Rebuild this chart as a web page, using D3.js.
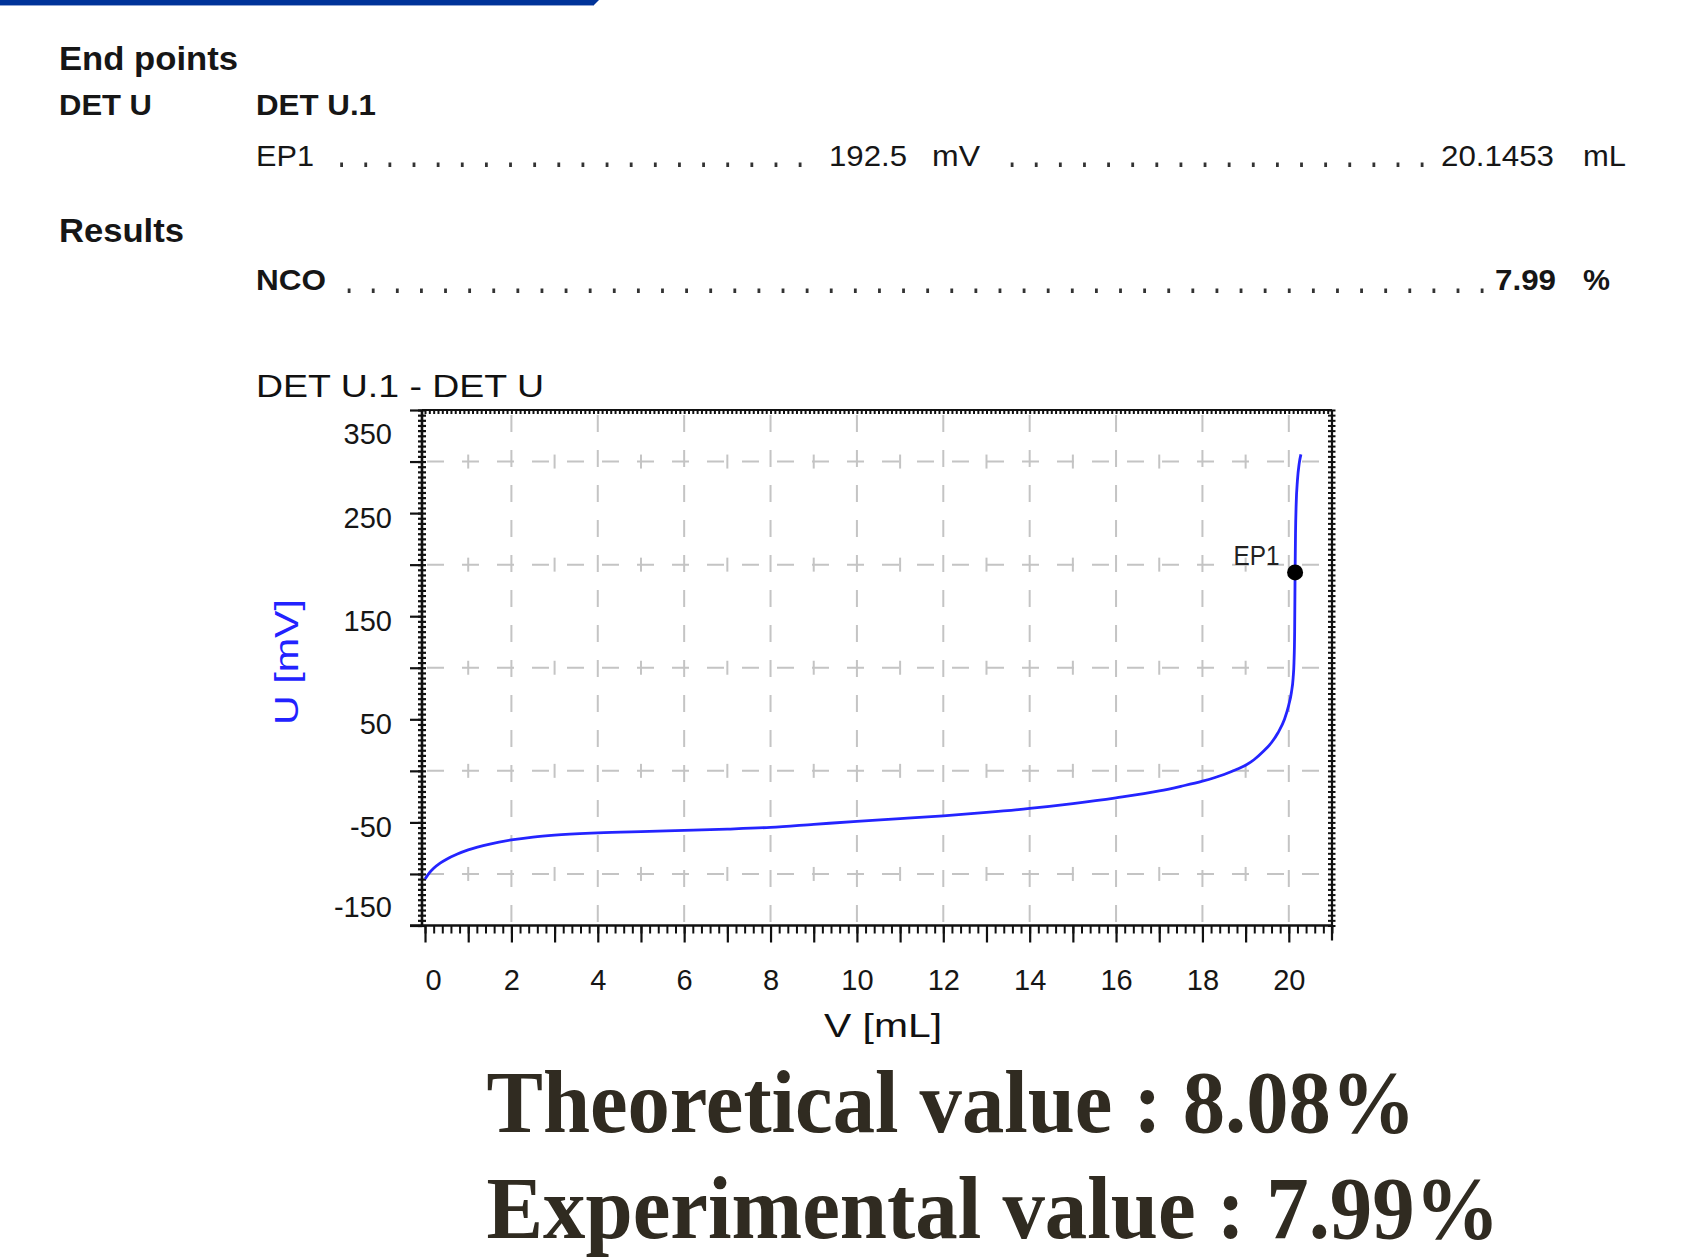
<!DOCTYPE html>
<html><head><meta charset="utf-8">
<script src="https://cdn.jsdelivr.net/npm/d3@7"></script>
<style>
html,body{margin:0;padding:0;background:#fff;}
svg{display:block;}
</style></head>
<body>
<svg id="chart" width="1684" height="1260"></svg>
<script>
// ---------------- data ----------------
const volume = [0, 0.1, 0.2, 0.35, 0.5, 0.75, 1, 1.5, 2, 2.5, 3, 4, 5, 6, 7, 8, 9, 10, 11, 12, 13, 14, 15, 16, 17, 17.5, 18, 18.5, 18.8, 19.0, 19.2, 19.4, 19.6, 19.75, 19.9, 20.0, 20.06, 20.1, 20.12, 20.135, 20.1453, 20.155, 20.17, 20.2, 20.24, 20.28];
const potential = [-105, -99, -94.5, -89.5, -85.7, -80.7, -76.7, -71, -67, -64.2, -62.3, -60.2, -58.9, -57.8, -56.5, -54.8, -51.9, -49, -46.4, -43.6, -40.3, -36.5, -31.8, -26.2, -19.5, -15, -10, -3.5, 1.5, 5.5, 11, 18.5, 27.5, 37, 50, 64, 76, 90, 105, 135, 192.5, 230, 258, 282, 298, 307];
const xTickLabels = [0, 2, 4, 6, 8, 10, 12, 14, 16, 18, 20];
const yTickLabels = [350, 250, 150, 50, -50, -150];
const yGridValues = [300, 200, 100, 0, -100];
const xGridValues = [2, 4, 6, 8, 10, 12, 14, 16, 18, 20];
const xDomain = [-0.07, 21.0];
const yDomain = [-150, 350];
const endPointLabel = "EP1";
const endPointVolume = 20.1453;
const endPointPotential = 192.5;
const sectionTitles = ["End points", "Results"];
const detLabels = ["DET U", "DET U.1"];
const epValues = ["192.5", "mV", "20.1453", "mL"];
const resultLabel = "NCO";
const resultValues = ["7.99", "%"];
const chartTitle = "DET U.1 - DET U";
const xAxisTitle = "V [mL]";
const yAxisTitle = "U [mV]";
const bottomLines = ["Theoretical value : 8.08%", "Experimental value : 7.99%"];

// ---------------- drawing ----------------
const svg = d3.select("#chart");
const SANS = "'Liberation Sans', Arial, Helvetica, sans-serif";
const SERIF = "'Liberation Serif', 'Times New Roman', serif";

function addText(x, y, str, o) {
  const t = svg.append("text").attr("x", x).attr("y", y).text(str)
    .attr("font-family", o.family || SANS)
    .attr("font-size", o.size)
    .attr("font-weight", o.weight || "normal")
    .attr("fill", o.fill || "#161616");
  if (o.len) t.attr("textLength", o.len).attr("lengthAdjust", "spacingAndGlyphs");
  if (o.anchor) t.attr("text-anchor", o.anchor);
  return t;
}

// top blue bar
svg.append("path").attr("d", "M0,0 L599,0 L594,5 L0,5 Z").attr("fill", "#003399");
svg.append("rect").attr("x", 0).attr("y", 5).attr("width", 594).attr("height", 1).attr("fill", "#8ea3d2");

// header
addText(59, 70, sectionTitles[0], {size: 33, weight: "bold", len: 179});
addText(59, 115, detLabels[0], {size: 30, weight: "bold", len: 93});
addText(256, 115, detLabels[1], {size: 30, weight: "bold", len: 120});
addText(256, 166, endPointLabel, {size: 30, len: 58});
addText(829, 166, epValues[0], {size: 30, len: 78});
addText(932, 166, epValues[1], {size: 30, len: 48});
addText(1441, 166, epValues[2], {size: 30, len: 113});
addText(1583, 166, epValues[3], {size: 30, len: 43});
addText(59, 241.5, sectionTitles[1], {size: 33, weight: "bold", len: 125});
addText(256, 290, resultLabel, {size: 30, weight: "bold", len: 70});
addText(1495, 290, resultValues[0], {size: 30, weight: "bold", len: 61});
addText(1583, 290, resultValues[1], {size: 30, weight: "bold", len: 27});

// dotted leaders
function leader(x0, x1, n, yTop) {
  const step = (x1 - x0) / (n - 1);
  svg.append("g").selectAll("rect").data(d3.range(n)).join("rect")
    .attr("x", i => x0 + i * step - 1.3).attr("y", yTop)
    .attr("width", 2.8).attr("height", 4.5).attr("fill", "#333");
}
leader(341.5, 800, 20, 162.5);
leader(1012, 1422, 18, 162.5);
leader(349, 1482, 48, 288.5);

// chart title
addText(256, 397, chartTitle, {size: 32, len: 288, fill: "#111"});

// scales
const x = d3.scaleLinear().domain(xDomain).range([422, 1332]);
const y = d3.scaleLinear().domain(yDomain).range([925.5, 410]);
const X0 = x(xDomain[0]), X1 = x(xDomain[1]), Y0 = y(yDomain[0]), Y1 = y(yDomain[1]);

// grid
const gridColor = "#c4c4c4";
const grid = svg.append("g");
grid.selectAll(".hg").data(yGridValues).join("line")
  .attr("x1", X0).attr("x2", X1).attr("y1", d => y(d)).attr("y2", d => y(d))
  .attr("stroke", gridColor).attr("stroke-width", 2)
  .attr("stroke-dasharray", "17,18").attr("stroke-dashoffset", 30);
grid.selectAll(".vg").data(xGridValues).join("line")
  .attr("x1", d => x(d)).attr("x2", d => x(d)).attr("y1", Y1).attr("y2", Y0)
  .attr("stroke", gridColor).attr("stroke-width", 2)
  .attr("stroke-dasharray", "17,18").attr("stroke-dashoffset", 30);
// small crosses on horizontal grid lines at odd mL
const crossPts = [];
yGridValues.forEach(v => d3.range(1, 21, 2).forEach(m => crossPts.push([m, v])));
grid.selectAll(".cr").data(crossPts).join("line")
  .attr("x1", d => x(d[0])).attr("x2", d => x(d[0]))
  .attr("y1", d => y(d[1]) - 7).attr("y2", d => y(d[1]) + 7)
  .attr("stroke", gridColor).attr("stroke-width", 2);

// frame: top and right borders with fine ticks
svg.append("line").attr("x1", X0).attr("x2", X1).attr("y1", Y1).attr("y2", Y1)
  .attr("stroke", "#111").attr("stroke-width", 2.2);
svg.append("line").attr("x1", X1).attr("x2", X1).attr("y1", Y1).attr("y2", Y0 + 15)
  .attr("stroke", "#111").attr("stroke-width", 2.2);
svg.append("g").attr("transform", `translate(0,${Y1})`)
  .call(d3.axisBottom(x).tickValues(d3.range(0, 210, 1).map(d => d / 10)).tickSize(4).tickFormat(""))
  .call(g => g.select(".domain").remove())
  .call(g => g.selectAll("line").attr("stroke", "#111").attr("stroke-width", 2).attr("y1", -1));
svg.append("g").attr("transform", `translate(${X1},0)`)
  .call(d3.axisLeft(y).tickValues(d3.range(-150, 351, 5)).tickSize(4).tickFormat(""))
  .call(g => g.select(".domain").remove())
  .call(g => g.selectAll("line").attr("stroke", "#111").attr("stroke-width", 2).attr("x2", 3.5).attr("x1", -4));

// left axis
svg.append("line").attr("x1", X0).attr("x2", X0).attr("y1", Y1).attr("y2", Y0)
  .attr("stroke", "#111").attr("stroke-width", 2.6);
svg.append("g").attr("transform", `translate(${X0},0)`)
  .call(d3.axisLeft(y).tickValues(d3.range(-150, 351, 5)).tickSize(4).tickFormat(""))
  .call(g => g.select(".domain").remove())
  .call(g => g.selectAll("line").attr("stroke", "#111").attr("stroke-width", 2.2).attr("x2", -4).attr("x1", 4));
svg.append("g").attr("transform", `translate(${X0},0)`)
  .call(d3.axisLeft(y).tickValues(d3.range(-150, 351, 50)).tickSize(12).tickPadding(18)
    .tickFormat(d => yTickLabels.includes(d) ? d : ""))
  .call(g => g.select(".domain").remove())
  .call(g => g.selectAll("line").attr("stroke", "#111").attr("stroke-width", 2.2))
  .call(g => g.selectAll("text")
    .attr("font-family", SANS).attr("font-size", 29).attr("fill", "#161616")
    .attr("y", d => d === yDomain[1] ? 24.6 : d === yDomain[0] ? -17.9 : 5));

// bottom axis
svg.append("line").attr("x1", X0 - 12).attr("x2", X1).attr("y1", Y0).attr("y2", Y0)
  .attr("stroke", "#111").attr("stroke-width", 2.4);
svg.append("g").attr("transform", `translate(0,${Y0})`)
  .call(d3.axisBottom(x).tickValues(d3.range(0, 106, 1).map(d => d / 5)).tickSize(8).tickFormat(""))
  .call(g => g.select(".domain").remove())
  .call(g => g.selectAll("line").attr("stroke", "#111").attr("stroke-width", 2));
svg.append("g").attr("transform", `translate(0,${Y0})`)
  .call(d3.axisBottom(x).tickValues(d3.range(0, 21, 1)).tickSize(17).tickPadding(27)
    .tickFormat(d => xTickLabels.includes(d) ? d : ""))
  .call(g => g.select(".domain").remove())
  .call(g => g.selectAll("line").attr("stroke", "#111").attr("stroke-width", 2.2))
  .call(g => g.selectAll("text")
    .attr("font-family", SANS).attr("font-size", 29).attr("fill", "#161616")
    .attr("x", d => d === 0 ? 8 : 0));

// axis titles
addText(883, 1037, xAxisTitle, {size: 34, len: 118, anchor: "middle", fill: "#111"});
svg.append("text").text(yAxisTitle)
  .attr("transform", "translate(298,662) rotate(-90)")
  .attr("text-anchor", "middle").attr("font-family", SANS).attr("font-size", 34)
  .attr("fill", "#2222ff").attr("textLength", 126).attr("lengthAdjust", "spacingAndGlyphs");

// curve
const pts = volume.map((v, i) => [v, potential[i]]);
svg.append("path").datum(pts)
  .attr("d", d3.line().x(d => x(d[0])).y(d => y(d[1])).curve(d3.curveMonotoneX))
  .attr("fill", "none").attr("stroke", "#2424ff").attr("stroke-width", 2.8)
  .attr("stroke-linejoin", "round");

// end point marker
svg.append("circle").attr("cx", x(endPointVolume)).attr("cy", y(endPointPotential)).attr("r", 8).attr("fill", "#000");
addText(x(endPointVolume) - 15.5, y(endPointPotential) - 7.5, endPointLabel,
  {size: 28, anchor: "end", len: 46, fill: "#222"});

// bottom statements
addText(486.5, 1131.5, bottomLines[0], {size: 88, weight: "bold", family: SERIF, len: 929, fill: "#302b21"});
addText(486.5, 1238, bottomLines[1], {size: 88, weight: "bold", family: SERIF, len: 1013, fill: "#302b21"});
</script>
</body></html>
